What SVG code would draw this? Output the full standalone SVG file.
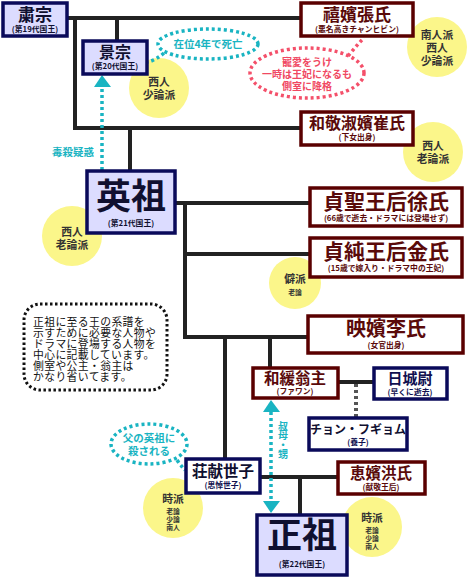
<svg xmlns="http://www.w3.org/2000/svg" width="470" height="580" viewBox="0 0 470 580">
<defs>
<style>
text{font-family:"Noto Sans CJK JP","Noto Sans",sans-serif;text-anchor:middle;font-weight:bold}
.king{fill:#dcdcff;stroke:#0a0a5a;stroke-width:3.5}
.navy{fill:#fff;stroke:#0a0a5a;stroke-width:3.5}
.mar{fill:#fff;stroke:#5a0000;stroke-width:3.5}
.tk{fill:#101030}
.tm{fill:#5a0a0a}
.tn{fill:#101050}
.sub{font-size:7.8px}
.ln{stroke:#222;stroke-width:4;fill:none}
.cy{stroke:#19b4c2;stroke-width:3.5;stroke-dasharray:3 3;fill:none}
.pk{stroke:#f4506a;stroke-width:3.5;stroke-dasharray:3 3;fill:none}
.yc{fill:#fbf68a}
.yt{fill:#333;font-size:10.8px}
.ys{font-size:6.8px}
.ct{fill:#19b4c2;font-size:10.5px}
.pt{fill:#f04862;font-size:10px}
.note{fill:#111;font-size:10.8px;font-weight:normal;text-anchor:start;letter-spacing:0.4px}
</style>
</defs>

<g id="connectors">
<path class="ln" d="M67,18 H300"/>
<path class="ln" d="M75,18 V128 H300"/>
<path class="ln" d="M117,18 V40"/>
<path class="ln" d="M130,128 V170"/>
<path class="ln" d="M175,203 H309"/>
<path class="ln" d="M185,203 V337 H307"/>
<path class="ln" d="M185,254 H309"/>
<path class="ln" d="M225,337 V458"/>
<path class="ln" d="M270,337 V367"/>
<path class="ln" d="M338,382 H373"/>
<path d="M356,384 V418" stroke="#555" stroke-width="4" stroke-dasharray="3 3" fill="none"/>
<path class="ln" d="M260,477 H337"/>
<path class="ln" d="M300,477 V514"/>
<path class="cy" d="M102,170 V86"/>
<polygon points="102,75 94,87 111,87" fill="#19b4c2"/>
<path class="cy" d="M271,412 V501"/>
<polygon points="271,400 263,412 280,412" fill="#19b4c2"/>
<polygon points="271,513 263,501 280,501" fill="#19b4c2"/>
</g>

<g id="note">
<rect x="24" y="304" width="143" height="86" rx="16" fill="none" stroke="#111" stroke-width="3" stroke-dasharray="2.5 2.5"/>
<text class="note" x="33" y="326">正祖に至る王の系譜を<tspan x="33" dy="11">示すために必要な人物や</tspan><tspan x="33" dy="11">ドラマに登場する人物を</tspan><tspan x="33" dy="11">中心に記載しています。</tspan><tspan x="33" dy="11">側室や公主・翁主は</tspan><tspan x="33" dy="11">かなり省いてます。</tspan></text>
</g>

<g id="bubbles">
<circle class="yc" cx="437" cy="47" r="30"/>
<text class="yt" x="437" y="39">南人派<tspan x="437" dy="13">西人</tspan><tspan x="437" dy="13">少論派</tspan></text>
<circle class="yc" cx="159" cy="88" r="30"/>
<text class="yt" x="159" y="86">西人<tspan x="159" dy="13">少論派</tspan></text>
<circle class="yc" cx="433" cy="152" r="30"/>
<text class="yt" x="433" y="150">西人<tspan x="433" dy="13">老論派</tspan></text>
<circle class="yc" cx="72" cy="236" r="30"/>
<text class="yt" x="72" y="236">西人<tspan x="72" dy="13">老論派</tspan></text>
<circle class="yc" cx="295" cy="283" r="26"/>
<text class="yt" x="295" y="283">僻派<tspan class="ys" x="295" dy="12">老論</tspan></text>
<circle class="yc" cx="173" cy="508" r="30"/>
<text class="yt" x="173" y="503">時派<tspan class="ys" x="173" dy="11">老論</tspan><tspan class="ys" x="173" dy="8">少論</tspan><tspan class="ys" x="173" dy="8">南人</tspan></text>
<circle class="yc" cx="372" cy="527" r="30"/>
<text class="yt" x="372" y="522">時派<tspan class="ys" x="372" dy="11">老論</tspan><tspan class="ys" x="372" dy="8">少論</tspan><tspan class="ys" x="372" dy="8">南人</tspan></text>
</g>

<g id="callouts">
<ellipse class="cy" cx="208" cy="44" rx="50" ry="15"/>
<path class="cy" d="M164,53 Q156,60 148,62"/>
<text class="ct" x="208" y="48">在位4年で死亡</text>
<ellipse class="pk" cx="307" cy="73" rx="57" ry="25"/>
<path class="pk" d="M348,56 Q356,46 364,38"/>
<text class="pt" x="307" y="66">寵愛をうけ<tspan x="307" dy="12">一時は王妃になるも</tspan><tspan x="307" dy="12">側室に降格</tspan></text>
<text class="ct" x="73" y="156">毒殺疑惑</text>
<text class="ct" x="283" y="421" style="writing-mode:vertical-rl;text-anchor:start;font-size:10px;letter-spacing:-0.5px">叔母・甥</text>
<ellipse class="cy" cx="149" cy="444" rx="38" ry="20"/>
<path class="cy" d="M177,460 Q181,466 185,470"/>
<text class="ct" x="149" y="442">父の英祖に<tspan x="149" dy="13">殺される</tspan></text>
</g>

<g id="sukjong">
<rect class="king" x="3" y="3" width="64" height="33"/>
<text class="tk" x="35" y="21" font-size="17">粛宗</text>
<text class="tk sub" x="35" y="32">(第19代国王)</text>
</g>
<g id="gyeongjong">
<rect class="king" x="83" y="41" width="64" height="33"/>
<text class="tk" x="115" y="58" font-size="16">景宗</text>
<text class="tk sub" x="115" y="69">(第20代国王)</text>
</g>
<g id="huibin">
<rect class="mar" x="301" y="3" width="112" height="33"/>
<text class="tm" x="357" y="21" font-size="17">禧嬪張氏</text>
<text class="tm sub" x="357" y="32">(悪名高きチャンヒビン)</text>
</g>
<g id="hwagyeong">
<rect class="mar" x="301" y="112" width="112" height="33"/>
<text class="tm" x="357" y="129" font-size="16">和敬淑嬪崔氏</text>
<text class="tm sub" x="357" y="140">(下女出身)</text>
</g>
<g id="yeongjo">
<rect class="king" x="87" y="171" width="88" height="62"/>
<text class="tk" x="131" y="209" font-size="35">英祖</text>
<text class="tk sub" x="131" y="226">(第21代国王)</text>
</g>
<g id="jeongseong">
<rect class="mar" x="310" y="188" width="152" height="38"/>
<text class="tm" x="386" y="209" font-size="21">貞聖王后徐氏</text>
<text class="tm sub" x="386" y="221">(66歳で逝去・ドラマには登場せず)</text>
</g>
<g id="jeongsun">
<rect class="mar" x="310" y="238" width="152" height="39"/>
<text class="tm" x="386" y="259" font-size="21">貞純王后金氏</text>
<text class="tm sub" x="386" y="271">(15歳で嫁入り・ドラマ中の王妃)</text>
</g>
<g id="yeongbin">
<rect class="mar" x="308" y="316" width="155" height="37"/>
<text class="tm" x="386" y="336" font-size="20">映嬪李氏</text>
<text class="tm sub" x="386" y="348">(女官出身)</text>
</g>
<g id="hwawan">
<rect class="mar" x="253" y="368" width="85" height="30"/>
<text class="tm" x="295" y="384" font-size="15.5">和緩翁主</text>
<text class="tm sub" x="295" y="394">(ファワン)</text>
</g>
<g id="ilseongwi">
<rect class="navy" x="374" y="368" width="73" height="31"/>
<text class="tn" x="410" y="384" font-size="15">日城尉</text>
<text class="tn sub" x="410" y="395">(早くに逝去)</text>
</g>
<g id="jeonghugyeom">
<rect class="navy" x="309" y="418" width="98" height="32"/>
<text class="tk" x="358" y="434" font-size="12">チョン・フギョム</text>
<text class="tn sub" x="358" y="445">(養子)</text>
</g>
<g id="sado">
<rect class="navy" x="186" y="459" width="74" height="34"/>
<text class="tk" x="223" y="477" font-size="15.5">荘献世子</text>
<text class="tn sub" x="223" y="488">(思悼世子)</text>
</g>
<g id="hyegyeong">
<rect class="mar" x="338" y="462" width="87" height="32"/>
<text class="tm" x="381" y="479" font-size="15.5">恵嬪洪氏</text>
<text class="tm sub" x="381" y="490">(献敬王后)</text>
</g>
<g id="jeongjo">
<rect class="king" x="257" y="515" width="90" height="60"/>
<text class="tk" x="302" y="548" font-size="35">正祖</text>
<text class="tk sub" x="302" y="567">(第22代国王)</text>
</g>
</svg>
